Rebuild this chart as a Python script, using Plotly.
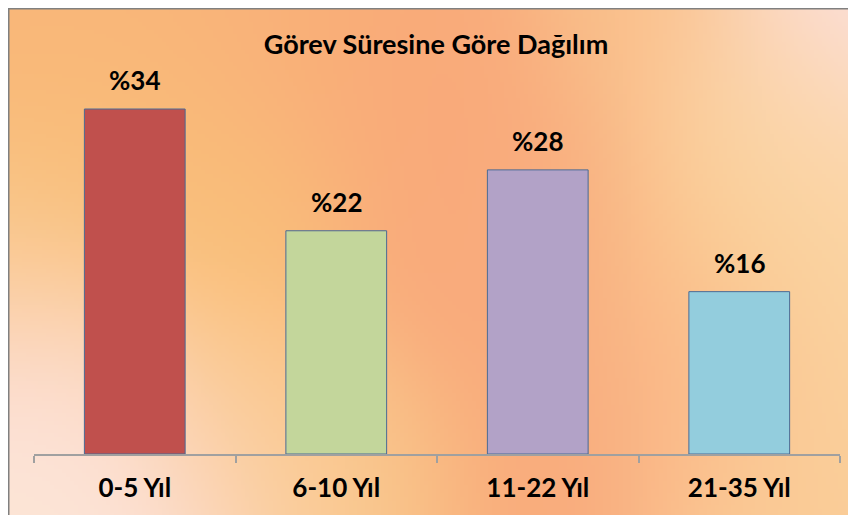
import base64, struct, zlib
import numpy as np
import plotly.graph_objects as go

# ---- data ----
categories = ["0-5 Yıl", "6-10 Yıl", "11-22 Yıl", "21-35 Yıl"]
values = [34, 22, 28, 16]
value_labels = ["%" + str(v) for v in values]
bar_colors = ["#C0504D", "#C3D69B", "#B2A2C7", "#93CDDD"]
title_text = "Görev Süresine Göre Dağılım"

# ---- background gradient (style only), control points in page pixels ----
W, H = 856, 515
OFF = 8  # page offset of the figure
ctrl = [
    (20, 20, "#F9B679"), (200, 30, "#FAB47A"), (330, 60, "#F9AE78"),
    (440, 100, "#F9A87A"), (460, 300, "#F9A97B"), (530, 480, "#F9A87A"),
    (620, 380, "#F9A97B"), (690, 380, "#FBC090"), (230, 200, "#FAC07A"),
    (230, 400, "#FAC27C"), (20, 200, "#F9C27C"), (20, 300, "#FBD0A5"),
    (20, 400, "#FDE2E6"), (30, 505, "#FCE8CE"), (160, 480, "#FDE4E8"),
    (300, 480, "#FBD2A8"), (370, 480, "#F9C47F"), (760, 150, "#FBD49A"),
    (850, 15, "#FCE2E6"), (800, 120, "#FBD8B5"), (830, 400, "#FBD29E"),
    (760, 490, "#FBCB95"), (650, 30, "#FAC08A"), (560, 200, "#F9AD7E"),
    (720, 260, "#FBCB90"), (850, 260, "#FBD6A6"), (120, 120, "#F9BC78"),
]
sc = 4
gw, gh = W // sc + 1, H // sc + 1
yy, xx = np.mgrid[0:gh, 0:gw].astype(float)
xx = xx * sc + OFF
yy = yy * sc + OFF
acc = np.zeros((gh, gw, 3))
wsum = np.zeros((gh, gw))
sigma = 85.0
for cx, cy, col in ctrl:
    rgb = np.array([int(col[i:i + 2], 16) for i in (1, 3, 5)], float)
    w = np.exp(-((xx - cx) ** 2 + (yy - cy) ** 2) / (2 * sigma ** 2)) + 1e-12
    acc += w[..., None] * rgb
    wsum += w
img = np.clip(acc / wsum[..., None], 0, 255).astype(np.uint8)

def to_png(a):
    h, w, _ = a.shape
    raw = b"".join(b"\x00" + a[r].tobytes() for r in range(h))
    def chunk(t, d):
        c = struct.pack(">I", len(d)) + t + d
        return c + struct.pack(">I", zlib.crc32(t + d) & 0xFFFFFFFF)
    return (b"\x89PNG\r\n\x1a\n" + chunk(b"IHDR", struct.pack(">IIBBBBB", w, h, 8, 2, 0, 0, 0))
            + chunk(b"IDAT", zlib.compress(raw, 9)) + chunk(b"IEND", b""))

uri = "data:image/png;base64," + base64.b64encode(to_png(img)).decode()

# ---- layout geometry (figure pixels) ----
L, R_, T, B = 26, 24, 32, 69
pw, ph = W - L - R_, H - T - B

def px(x):
    return (x - L) / pw

def py(y):
    return (H - B - y) / ph

font_family = "Lato, 'Open Sans', sans-serif"

fig = go.Figure()
fig.add_trace(go.Bar(
    x=categories, y=values, width=0.5,
    marker=dict(color=bar_colors, line=dict(color="#4A6A95", width=1)),
    hoverinfo="skip",
))
for c, v, t in zip(categories, values, value_labels):
    fig.add_annotation(x=c, y=v, text="<b>" + t + "</b>", showarrow=False,
                       yanchor="bottom", yshift=11,
                       font=dict(family=font_family, size=26, color="#000000"))

fig.update_layout(
    width=W, height=H,
    margin=dict(l=L, r=R_, t=T, b=B, pad=0),
    paper_bgcolor="#FFFFFF", plot_bgcolor="rgba(0,0,0,0)",
    showlegend=False,
    title=dict(text="<b>" + title_text + "</b>", x=px(429), xanchor="center",
               y=1 - 37 / H, yanchor="middle",
               font=dict(family=font_family, size=27, color="#000000")),
    xaxis=dict(type="category", range=[-0.5, 3.5], showline=True, linecolor="#A0A0A0",
               linewidth=1.5, ticks="outside", tickson="boundaries", ticklen=7,
               tickcolor="#A0A0A0", tickwidth=1.5, showgrid=False, zeroline=False,
               ticklabelstandoff=10,
               tickfont=dict(family=font_family, size=26, color="#000000"),
               tickvals=categories, ticktext=["<b>" + c + "</b>" for c in categories]),
    yaxis=dict(range=[0, 40.8], visible=False, showgrid=False, zeroline=False),
    images=[dict(source=uri, xref="paper", yref="paper", x=px(0), y=py(0),
                 sizex=W / pw, sizey=H / ph, xanchor="left",
                 yanchor="top", sizing="stretch", layer="below")],
    shapes=[dict(type="rect", xref="paper", yref="paper", x0=px(0.5), y0=py(0.5),
                 x1=px(W + 20), y1=py(H + 20), line=dict(color="#808080", width=2),
                 fillcolor="rgba(0,0,0,0)", layer="above")],
)

fig.write_html("out.html")
